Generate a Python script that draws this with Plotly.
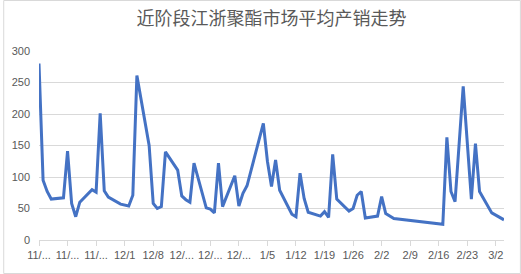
import plotly.graph_objects as go

title_text = "近阶段江浙聚酯市场平均产销走势"

dates = [
    "2022-11-10", "2022-11-11", "2022-11-12", "2022-11-13", "2022-11-16", "2022-11-17",
    "2022-11-18", "2022-11-19", "2022-11-20", "2022-11-23", "2022-11-24", "2022-11-25",
    "2022-11-26", "2022-11-27", "2022-11-30", "2022-12-02", "2022-12-03", "2022-12-04",
    "2022-12-07", "2022-12-08", "2022-12-09", "2022-12-10", "2022-12-11", "2022-12-14",
    "2022-12-15", "2022-12-16", "2022-12-17", "2022-12-18", "2022-12-21", "2022-12-22",
    "2022-12-23", "2022-12-24", "2022-12-25", "2022-12-28", "2022-12-29", "2022-12-30",
    "2022-12-31", "2023-01-04", "2023-01-05", "2023-01-06", "2023-01-07", "2023-01-08",
    "2023-01-11", "2023-01-12", "2023-01-13", "2023-01-14", "2023-01-15", "2023-01-18",
    "2023-01-19", "2023-01-20", "2023-01-21", "2023-01-22", "2023-01-25", "2023-01-26",
    "2023-01-27", "2023-01-28", "2023-01-29", "2023-02-01", "2023-02-02", "2023-02-03",
    "2023-02-05", "2023-02-17", "2023-02-18", "2023-02-19", "2023-02-20", "2023-02-22",
    "2023-02-24", "2023-02-25", "2023-02-26", "2023-03-01", "2023-03-04",
]
values = [
    280, 95, 77, 65, 67, 141,
    58, 37, 60, 80, 76, 201,
    78, 68, 57, 54, 71, 261,
    150, 58, 50, 53, 140, 111,
    70, 64, 60, 122, 51, 49,
    43, 122, 53, 102, 54, 74,
    86, 185, 125, 85, 127, 79,
    41, 37, 106, 66, 44, 38,
    45, 36, 136, 65, 46, 50,
    71, 77, 35, 38, 69, 42,
    34, 25, 163, 77, 61, 244,
    65, 153, 77, 43, 32,
]

tick_dates = [
    "2022-11-10", "2022-11-17", "2022-11-24", "2022-12-01", "2022-12-08", "2022-12-15",
    "2022-12-22", "2022-12-29", "2023-01-05", "2023-01-12", "2023-01-19", "2023-01-26",
    "2023-02-02", "2023-02-09", "2023-02-16", "2023-02-23", "2023-03-02",
]
tick_labels = [
    "11/...", "11/...", "11/...", "12/1", "12/8", "12/...",
    "12/...", "12/...", "1/5", "1/12", "1/19", "1/26",
    "2/2", "2/9", "2/16", "2/23", "3/2",
]
y_ticks = [0, 50, 100, 150, 200, 250, 300]

W, H = 521, 274
ml, mr, mt, mb = 36, 17, 51, 34
pw, ph = W - ml - mr, H - mt - mb

fig = go.Figure()
fig.add_trace(go.Scatter(
    x=dates, y=values, mode="lines",
    line=dict(color="#4472C4", width=3),
    hoverinfo="skip",
))

fig.update_layout(
    width=W, height=H,
    margin=dict(l=ml, r=mr, t=mt, b=mb, pad=0),
    paper_bgcolor="white", plot_bgcolor="white",
    showlegend=False,
    font=dict(family="Liberation Sans, Arial, sans-serif", color="#595959", size=11),
    title=dict(
        text=title_text,
        font=dict(family="Noto Sans CJK SC", size=18, color="#595959"),
        x=0.5, xref="paper", xanchor="center",
        y=1 - 19 / H, yref="container", yanchor="middle",
    ),
    xaxis=dict(
        type="date",
        range=["2022-11-10", "2023-03-04"],
        tickmode="array", tickvals=tick_dates, ticktext=tick_labels,
        showgrid=False, zeroline=False,
        showline=True, linecolor="#d9d9d9", linewidth=1,
        ticks="outside", ticklen=5, tickcolor="#d9d9d9",
        tickfont=dict(size=11, color="#595959"),
        tickangle=0,
    ),
    yaxis=dict(
        range=[0, 300],
        tickmode="array", tickvals=y_ticks,
        showgrid=True, gridcolor="#d9d9d9", gridwidth=1,
        zeroline=False, showline=False,
        ticks="", ticklabelstandoff=8,
        tickfont=dict(size=11, color="#595959"),
    ),
)

# chart area border (Excel-like)
fig.add_shape(
    type="rect", xref="paper", yref="paper",
    x0=(-ml + 0.5) / pw, x1=(W - ml - 0.5) / pw,
    y0=(-mb + 0.5) / ph, y1=(H - mb - 0.5) / ph,
    line=dict(color="#d9d9d9", width=1), layer="below",
)

fig.write_html("out.html")
